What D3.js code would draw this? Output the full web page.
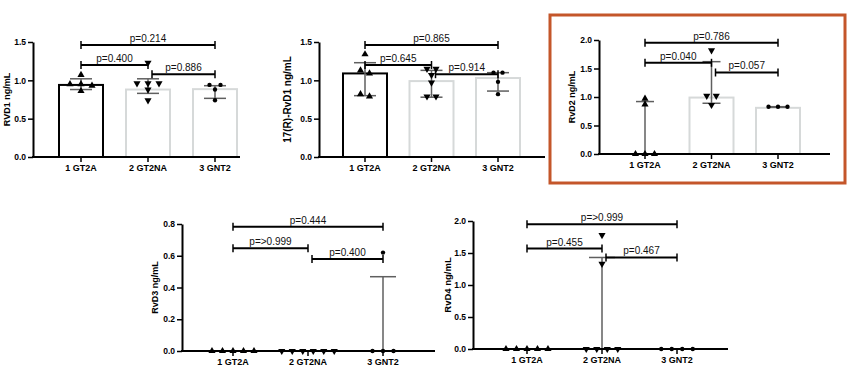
<!DOCTYPE html>
<html>
<head>
<meta charset="utf-8">
<script src="https://cdn.jsdelivr.net/npm/d3@7"></script>
<style>
  body { margin: 0; background: #fff; }
  svg { display: block; }
  text { font-family: "Liberation Sans", Arial, sans-serif; }
</style>
</head>
<body>
<svg id="chart" width="850" height="375"></svg>
<script>
const cats = ["1 GT2A", "2 GT2NA", "3 GNT2"];
const pairs = [[0, 2], [0, 1], [1, 2]];

// RvD1
const rvd1Points = [[1.07, 0.95, 0.93, 0.95, 0.86], [1.23, 0.96, 0.96, 0.96, 0.88, 0.74], [0.94, 0.94, 0.88, 0.74]];
const rvd1Bars = [0.94, 0.88, 0.885];
const rvd1Err = [[0.88, 1.02], [0.83, 1.02], [0.765, 0.93]];
const rvd1P = ["p=0.214", "p=0.400", "p=0.886"];
const rvd1PLevel = [1.46, 1.20, 1.08];

// 17(R)-RvD1
const r17Points = [[1.34, 1.13, 1.09, 0.79, 0.82], [1.15, 1.15, 1.07, 0.97, 0.79, 0.79], [1.10, 1.10, 0.98, 0.82]];
const r17Bars = [1.09, 0.99, 1.03];
const r17Err = [[0.80, 1.23], [0.78, 1.13], [0.86, 1.10]];
const r17P = ["p=0.865", "p=0.645", "p=0.914"];
const r17PLevel = [1.46, 1.20, 1.08];

// RvD2
const rvd2Points = [[0.97, 0.87, 0, 0, 0], [1.82, 1.02, 1.02, 0.86], [0.83, 0.83, 0.83]];
const rvd2Bars = [0, 0.99, 0.81];
const rvd2Err = [[0, 0.92], [0.89, 1.62], [0.82, 0.83]];
const rvd2P = ["p=0.786", "p=0.040", "p=0.057"];
const rvd2PLevel = [1.95, 1.60, 1.43];

// RvD3
const rvd3Points = [[0, 0, 0, 0, 0], [0, 0, 0, 0, 0, 0], [0.62, 0, 0, 0]];
const rvd3Bars = [0, 0, 0];
const rvd3Err = [[0, 0], [0, 0], [0, 0.468]];
const rvd3P = ["p=0.444", "p=>0.999", "p=0.400"];
const rvd3PLevel = [0.783, 0.647, 0.58];

// RvD4
const rvd4Points = [[0, 0, 0, 0, 0], [1.78, 1.33, 0, 0, 0, 0], [0, 0, 0, 0]];
const rvd4Bars = [0, 0, 0];
const rvd4Err = [[0, 0], [0, 1.43], [0, 0]];
const rvd4P = ["p=>0.999", "p=0.455", "p=0.467"];
const rvd4PLevel = [1.95, 1.57, 1.43];

const svg = d3.select("#chart");

// orange highlight box around the RvD2 panel
svg.append("rect")
    .attr("x", 550).attr("y", 15)
    .attr("width", 295).attr("height", 168)
    .attr("fill", "none")
    .attr("stroke", "#c4562a")
    .attr("stroke-width", 3);

let panels = [
    { label: "RVD1 ng/mL", lsize: 9, points: rvd1Points, bars: rvd1Bars, err: rvd1Err, pv: rvd1P, pl: rvd1PLevel,
      yMax: 1.5, yTicks: [0, 0.5, 1, 1.5], x0: 33, x1: 240, y0: 157, y1: 42, c0: 81, c2: 215, labelX: 7, cap: 11, gap: 11 },
    { label: "17(R)-RvD1 ng/mL", lsize: 10, points: r17Points, bars: r17Bars, err: r17Err, pv: r17P, pl: r17PLevel,
      yMax: 1.5, yTicks: [0, 0.5, 1, 1.5], x0: 319, x1: 545, y0: 157, y1: 42, c0: 365, c2: 498, labelX: 288, cap: 11, gap: 9 },
    { label: "RvD2 ng/mL", lsize: 9, points: rvd2Points, bars: rvd2Bars, err: rvd2Err, pv: rvd2P, pl: rvd2PLevel,
      yMax: 2, yTicks: [0, 0.5, 1, 1.5, 2], x0: 599, x1: 830, y0: 154, y1: 40, c0: 645, c2: 778, labelX: 572, cap: 9, gap: 9.5 },
    { label: "RvD3 ng/mL", lsize: 9, points: rvd3Points, bars: rvd3Bars, err: rvd3Err, pv: rvd3P, pl: rvd3PLevel,
      yMax: 0.8, yTicks: [0, 0.2, 0.4, 0.6, 0.8], x0: 182, x1: 435, y0: 351, y1: 224, c0: 233, c2: 383, labelX: 155, cap: 13, gap: 10.5 },
    { label: "RvD4 ng/mL", lsize: 9.5, points: rvd4Points, bars: rvd4Bars, err: rvd4Err, pv: rvd4P, pl: rvd4PLevel,
      yMax: 2, yTicks: [0, 0.5, 1, 1.5, 2], x0: 473, x1: 728, y0: 349, y1: 221, c0: 527, c2: 677, labelX: 448, cap: 13, gap: 10.5 }
];

let shapes = [
    { type: d3.symbolTriangle, rot: 0, size: 22 },
    { type: d3.symbolTriangle, rot: 180, size: 22 },
    { type: d3.symbolCircle, rot: 0, size: 15 }
];

// horizontal spread for points sitting at (almost) the same height
function spread(vals, y, gap) {
    let idx = vals.map((v, i) => i).sort((a, b) => vals[b] - vals[a]);
    let out = new Array(vals.length).fill(0);
    let cluster = [];
    function flush() {
        cluster.forEach((k, j) => { out[k] = (j - (cluster.length - 1) / 2) * gap; });
        cluster = [];
    }
    idx.forEach(k => {
        if (cluster.length && Math.abs(y(vals[cluster[0]]) - y(vals[k])) > 4) flush();
        cluster.push(k);
    });
    flush();
    return out;
}

function drawPanel(cfg) {
    let g = svg.append("g");
    let x = d3.scalePoint().domain(cats).range([cfg.c0, cfg.c2]);
    let y = d3.scaleLinear().domain([0, cfg.yMax]).range([cfg.y0, cfg.y1]);

    // bars
    g.selectAll(".bar")
        .data(cfg.bars.map((v, i) => ({ v: v, i: i })).filter(d => d.v > 0))
        .enter().append("rect")
        .attr("x", d => x(cats[d.i]) - 22)
        .attr("y", d => y(d.v))
        .attr("width", 44)
        .attr("height", d => y(0) - y(d.v))
        .attr("fill", "#fff")
        .attr("stroke", d => d.i == 0 ? "#000" : "#d6d9d9")
        .attr("stroke-width", 2);

    // error bars
    cfg.err.forEach(function(e, i) {
        if (e[1] - e[0] <= 0) return;
        let cx = x(cats[i]);
        g.append("line").attr("x1", cx).attr("x2", cx).attr("y1", y(e[0])).attr("y2", y(e[1]));
        g.append("line").attr("x1", cx - cfg.cap).attr("x2", cx + cfg.cap).attr("y1", y(e[1])).attr("y2", y(e[1]));
        if (e[0] > 0) {
            g.append("line").attr("x1", cx - cfg.cap).attr("x2", cx + cfg.cap).attr("y1", y(e[0])).attr("y2", y(e[0]));
        }
    });
    g.selectAll("line").attr("stroke", "#5f5f5f").attr("stroke-width", 1.5);

    // y axis
    let ya = g.append("g")
        .attr("transform", "translate(" + cfg.x0 + ",0)")
        .call(d3.axisLeft(y).tickValues(cfg.yTicks).tickFormat(d3.format(".1f"))
            .tickSize(5).tickPadding(2).tickSizeOuter(0));
    ya.select(".domain").attr("stroke", "#000").attr("stroke-width", 2);
    ya.selectAll(".tick line").attr("stroke", "#000").attr("stroke-width", 1.5);
    ya.selectAll(".tick text").attr("fill", "#000")
        .attr("font-family", "'Liberation Sans', Arial, sans-serif")
        .attr("font-size", 8.5).attr("font-weight", "bold");

    // x axis
    g.append("line")
        .attr("x1", cfg.x0 - 1).attr("x2", cfg.x1)
        .attr("y1", cfg.y0).attr("y2", cfg.y0)
        .attr("stroke", "#000").attr("stroke-width", 2);
    cats.forEach(function(c) {
        g.append("line")
            .attr("x1", x(c)).attr("x2", x(c))
            .attr("y1", cfg.y0).attr("y2", cfg.y0 + 5)
            .attr("stroke", "#000").attr("stroke-width", 1.5);
        g.append("text")
            .attr("x", x(c)).attr("y", cfg.y0 + 13.5)
            .attr("text-anchor", "middle")
            .attr("font-size", 9).attr("font-weight", "bold")
            .text(c);
    });

    // y label
    g.append("text")
        .attr("transform", "translate(" + (cfg.labelX + 3) + "," + ((cfg.y0 + cfg.y1) / 2) + ") rotate(-90)")
        .attr("text-anchor", "middle")
        .attr("font-size", cfg.lsize).attr("font-weight", "bold")
        .text(cfg.label);

    // points
    cfg.points.forEach(function(vals, i) {
        let off = spread(vals, y, cfg.gap);
        let s = shapes[i];
        g.selectAll(".pt" + i)
            .data(vals)
            .enter().append("path")
            .attr("d", d3.symbol().type(s.type).size(s.size))
            .attr("transform", (d, k) => "translate(" + (x(cats[i]) + off[k]) + "," + y(d) + ") rotate(" + s.rot + ")")
            .attr("fill", "#000");
    });

    // comparison brackets
    pairs.forEach(function(p, j) {
        let xa = x(cats[p[0]]), xb = x(cats[p[1]]), yy = y(cfg.pl[j]);
        if (p[0] == 1) xa += 4;
        g.append("line").attr("x1", xa).attr("x2", xb).attr("y1", yy).attr("y2", yy)
            .attr("stroke", "#000").attr("stroke-width", 2);
        [xa, xb].forEach(function(xe) {
            g.append("line").attr("x1", xe).attr("x2", xe).attr("y1", yy - 4).attr("y2", yy + 4)
                .attr("stroke", "#000").attr("stroke-width", 1.5);
        });
        g.append("text")
            .attr("x", (xa + xb) / 2).attr("y", yy - 3)
            .attr("text-anchor", "middle")
            .attr("font-size", 10)
            .attr("fill", "#111")
            .text(cfg.pv[j]);
    });
}

panels.forEach(drawPanel);
</script>
</body>
</html>
